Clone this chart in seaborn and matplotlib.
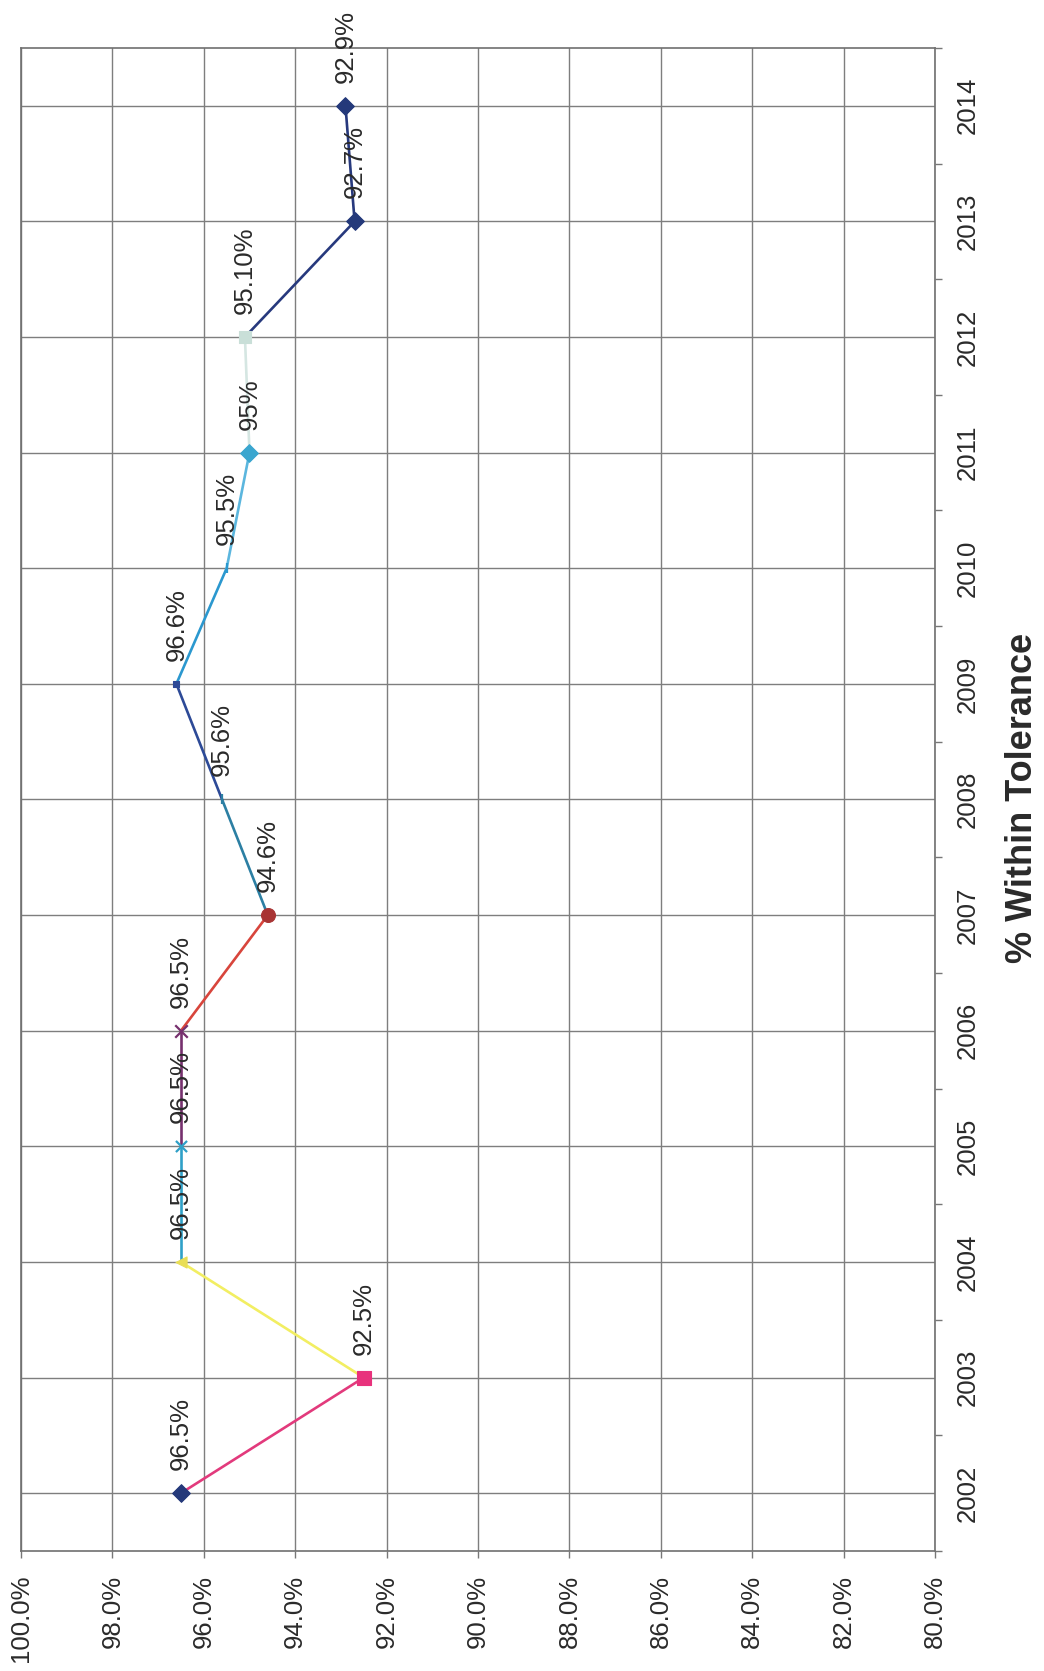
import matplotlib
matplotlib.use("Agg")
import matplotlib.pyplot as plt
import seaborn as sns
import pandas as pd
import numpy as np

# Yearly share of readings within tolerance
years = [2002, 2003, 2004, 2005, 2006, 2007, 2008, 2009, 2010, 2011, 2012, 2013, 2014]
values = [96.5, 92.5, 96.5, 96.5, 96.5, 94.6, 95.6, 96.6, 95.5, 95.0, 95.1, 92.7, 92.9]
value_labels = ["96.5%", "92.5%", "96.5%", "96.5%", "96.5%", "94.6%", "95.6%",
                "96.6%", "95.5%", "95%", "95.10%", "92.7%", "92.9%"]
value_ticks = [80, 82, 84, 86, 88, 90, 92, 94, 96, 98, 100]
title = "% Within Tolerance"

# Each year is its own series: the segment leading into a year uses that year's colour
line_colors = ["#24397A", "#E23A7C", "#F2EE62", "#2FA0C8", "#76306E", "#D8453C",
               "#2C7FA3", "#2D4A97", "#2B98CF", "#5BB6DE", "#D5E6E2", "#27397D", "#27397D"]
marker_colors = ["#24397A", "#E8327C", "#E9DE55", "#2FA0C8", "#76306E", "#A83434",
                 "#2C7FA3", "#2D4A97", "#2B98CF", "#3AA6CF", "#C9DFD8", "#24397A", "#24397A"]
markers = ["D", "s", "<", "x", "x", "o", "|", "s", "|", "D", "s", "D", "D"]
marker_sizes = [9, 10, 8, 8, 9, 10, 7, 4, 7, 9, 8, 9, 9]

sns.set_theme(style="white")
plt.rcParams["font.family"] = ["Liberation Sans", "DejaVu Sans"]

fig = plt.figure(figsize=(10.44, 16.71), dpi=100)
fig.patch.set_facecolor("white")
ax = fig.add_axes([21 / 1044, 1 - 1551 / 1671, (935 - 21) / 1044, (1551 - 48) / 1671])
ax.set_facecolor("white")

df = pd.DataFrame({"year": years, "pos": np.arange(len(years)), "value": values})

# Connecting segments
for i in range(1, len(df)):
    seg = df.iloc[i - 1:i + 1]
    sns.lineplot(data=seg, x="value", y="pos", orient="y", estimator=None,
                 color=line_colors[i], linewidth=1.9, ax=ax, legend=False, zorder=3)

# Point markers
for i, row in df.iterrows():
    m = markers[i]
    filled = m not in ("x", "|")
    sns.scatterplot(x=[row["value"]], y=[row["pos"]], marker=m,
                    s=marker_sizes[i] ** 2, color=marker_colors[i],
                    edgecolor=marker_colors[i] if filled else None,
                    linewidth=1.6 if not filled else 0.8,
                    ax=ax, legend=False, zorder=4)

# Value labels beside each point
for i, row in df.iterrows():
    ax.annotate(value_labels[i], (row["value"], row["pos"]), xytext=(0, 23),
                textcoords="offset pixels", rotation=90, ha="center", va="bottom",
                fontsize=18.5, color="#2a2a2a", zorder=5, annotation_clip=False)

# Value axis (reads from 100% on the left down to 80% on the right)
ax.set_xlim(100, 80)
ax.set_xticks(value_ticks)
ax.set_xticklabels([f"{v:.1f}%" for v in value_ticks])
ax.tick_params(axis="x", which="major", bottom=True, direction="out", length=5,
               width=1, color="#777777", pad=12, labelsize=18.5, labelcolor="#2a2a2a",
               labelrotation=90)

# Year axis on the right
ax.set_ylim(-0.5, len(years) - 0.5)
ax.yaxis.tick_right()
ax.set_yticks(df["pos"])
ax.set_yticklabels([str(y) for y in years])
ax.set_yticks(np.arange(-0.5, len(years), 1.0), minor=True)
ax.tick_params(axis="y", which="major", right=True, left=False, length=0, pad=15,
               labelsize=18.5, labelcolor="#2a2a2a", labelrotation=90)
ax.tick_params(axis="y", which="minor", right=True, left=False, direction="out",
               length=5, width=1, color="#777777")
for lab in ax.get_yticklabels():
    lab.set_verticalalignment("center")
    lab.set_horizontalalignment("left")

ax.set_xlabel("")
ax.set_ylabel("")
ax.grid(True, which="major", color="#7e7e7e", linewidth=1.0)
for side in ["left", "right", "top", "bottom"]:
    ax.spines[side].set_visible(True)
    ax.spines[side].set_color("#707070")
    ax.spines[side].set_linewidth(1.2)

fig.text(1023 / 1044, 1 - 798 / 1671, title, rotation=90, ha="center", va="center",
         fontsize=26, fontweight="bold", color="#2a2a2a")

fig.savefig("out.png", dpi=100, facecolor="white")
